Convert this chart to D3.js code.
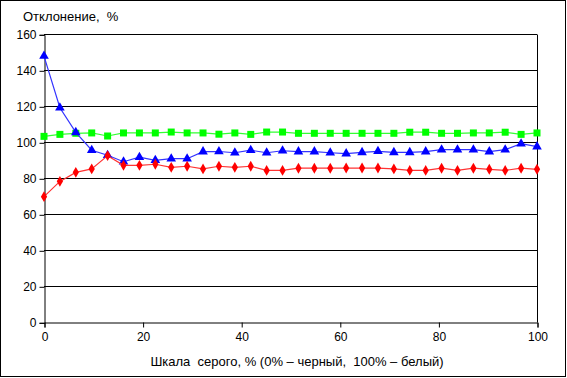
<!DOCTYPE html>
<html><head><meta charset="utf-8">
<script src="https://cdn.jsdelivr.net/npm/d3@7"></script>
<style>body{margin:0;background:#fff}svg{display:block}text{font-family:"Liberation Sans",Arial,sans-serif;font-size:12px;fill:#000}</style>
</head><body><svg id="c" width="567" height="378"></svg>
<script>
const xValues = d3.range(32).map(i => i * 100 / 31);
const blueSeries = [147.9,119.2,105.5,95.6,92.8,89.2,91.7,90,90.9,90.9,94.8,94.9,94.2,95.6,94.2,95.3,94.8,94.8,94.2,93.7,94.4,95,94.4,94.4,94.8,95.9,95.9,95.9,94.8,95.9,99.2,97.6];
const greenSeries = [103.3,104.4,105,105.2,103.5,105.2,105.2,105.2,105.7,105.2,105.2,104.5,105.2,104.4,105.7,105.7,105,105,105,105,105,105,105,105.6,105.6,105,105,105.2,105.2,105.6,104.4,105.2];
const redSeries = [69.8,78.3,83.3,85.2,92.6,87.2,87.2,87.8,86.1,86.7,85.2,86.7,86.1,86.7,84.4,84.4,85.6,85.6,85.6,85.7,85.7,85.7,85.2,84.4,84.4,85.6,84.4,85.6,85,84.4,85.6,85];
const yTicks = [0,20,40,60,80,100,120,140,160];
const xTicks = [0,20,40,60,80,100];
const yTitle = "Отклонение,  %";
const xTitle = "Шкала  серого, % (0% – черный,  100% – белый)";

const svg = d3.select("#c");
svg.append("rect").attr("x",0.5).attr("y",0.5).attr("width",565).attr("height",376).attr("fill","#fff").attr("stroke","#000");

const x = d3.scaleLinear().domain([0,100]).range([44,537]);
const y = d3.scaleLinear().domain([0,160]).range([322.3,34.3]);

svg.append("g").selectAll("line").data(yTicks.filter(d=>d>0)).join("line")
  .attr("x1",x(0)).attr("x2",x(100)).attr("y1",d=>Math.round(y(d))+0.5).attr("y2",d=>Math.round(y(d))+0.5)
  .attr("stroke","#000");
svg.append("line").attr("x1",x(100)+0.5).attr("x2",x(100)+0.5).attr("y1",Math.round(y(160))+0.5).attr("y2",Math.round(y(0))+0.5).attr("stroke","#000");

const yAxis = svg.append("g").attr("transform",`translate(${x(0)+0.5},0.5)`)
  .call(d3.axisLeft(y).tickValues(yTicks).tickSize(5).tickPadding(3).tickFormat(d3.format("d")));
yAxis.select(".domain").attr("stroke","#000");
yAxis.selectAll(".tick line").attr("stroke","#000");
yAxis.selectAll("text").attr("font-size",12).attr("font-family","Liberation Sans, Arial, sans-serif").attr("fill","#000");

const xAxis = svg.append("g").attr("transform",`translate(0.5,${Math.round(y(0))+0.5})`)
  .call(d3.axisBottom(x).tickValues(xTicks).tickSize(5).tickPadding(5).tickFormat(d3.format("d")));
xAxis.select(".domain").attr("stroke","#000");
xAxis.selectAll(".tick line").attr("stroke","#000");
xAxis.selectAll("text").attr("font-size",12).attr("font-family","Liberation Sans, Arial, sans-serif").attr("fill","#000");

const series = [
  {vals: greenSeries, color:"#00ff00", line:"#33ff33", sym:d3.symbolSquare, size:49},
  {vals: blueSeries, color:"#0000ff", line:"#3333ff", sym:d3.symbolTriangle, size:40},
  {vals: redSeries, color:"#ff0000", line:"#ff3333", sym:d3.symbolDiamond, size:34},
];
const line = d3.line().x((d,i)=>x(xValues[i])).y(d=>y(d));
series.forEach(s=>{
  svg.append("path").datum(s.vals).attr("d",line).attr("fill","none").attr("stroke",s.line).attr("stroke-width",1.2);
  svg.append("g").selectAll("path").data(s.vals).join("path")
    .attr("transform",(d,i)=>`translate(${x(xValues[i])},${y(d)})`)
    .attr("d",d3.symbol().type(s.sym).size(s.size)).attr("fill",s.color);
});

svg.append("text").attr("x",23).attr("y",21).attr("font-size",13).style("font-size","13px").attr("xml:space","preserve").style("white-space","pre").text(yTitle);
svg.append("text").attr("x",297).attr("y",366).attr("text-anchor","middle").style("font-size","13px").attr("xml:space","preserve").style("white-space","pre").text(xTitle);
</script></body></html>
